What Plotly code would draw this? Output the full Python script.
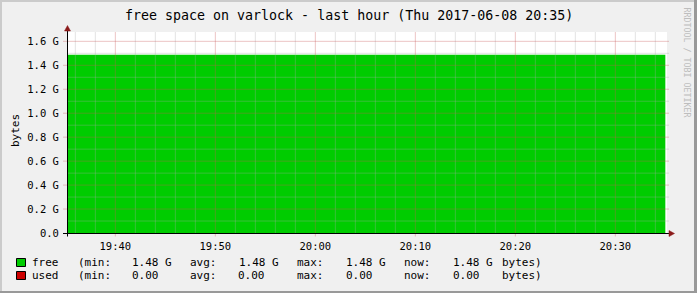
import plotly.graph_objects as go
from datetime import datetime, timedelta

# ---------------- data ----------------
times = ["2017-06-08 19:35:00", "2017-06-08 19:40:00", "2017-06-08 19:45:00",
         "2017-06-08 19:50:00", "2017-06-08 19:55:00", "2017-06-08 20:00:00",
         "2017-06-08 20:05:00", "2017-06-08 20:10:00", "2017-06-08 20:15:00",
         "2017-06-08 20:20:00", "2017-06-08 20:25:00", "2017-06-08 20:30:00",
         "2017-06-08 20:35:00"]
free_bytes = [1.488e9, 1.488e9, 1.488e9, 1.488e9, 1.488e9, 1.488e9, 1.488e9,
              1.488e9, 1.488e9, 1.488e9, 1.488e9, 1.488e9, 1.488e9]
used_bytes = [0, 0, 0, 0, 0, 0, 0, 0, 0, 0, 0, 0, 0]

y_major = [0.0, 0.2e9, 0.4e9, 0.6e9, 0.8e9, 1.0e9, 1.2e9, 1.4e9, 1.6e9]
y_labels = ["0.0", "0.2 G", "0.4 G", "0.6 G", "0.8 G", "1.0 G", "1.2 G", "1.4 G", "1.6 G"]
y_minor = [0.1e9, 0.3e9, 0.5e9, 0.7e9, 0.9e9, 1.1e9, 1.3e9, 1.5e9]
y_range = [0, 1.678e9]

x_major = ["2017-06-08 19:40:00", "2017-06-08 19:50:00", "2017-06-08 20:00:00",
           "2017-06-08 20:10:00", "2017-06-08 20:20:00", "2017-06-08 20:30:00"]
x_labels = ["19:40", "19:50", "20:00", "20:10", "20:20", "20:30"]
x_minor_start = "2017-06-08 19:36:00"
x_minor_end = "2017-06-08 20:34:00"
x_minor_step_min = 2
x_range = ["2017-06-08 19:35:10", "2017-06-08 20:35:10"]

title = "free space on varlock - last hour (Thu 2017-06-08 20:35)"
y_title = "bytes"
watermark = "RRDTOOL / TOBI OETIKER"

legend_names = ["free", "used"]
legend_colors = ["#00CC00", "#CC0000"]
legend_stats = [
    ["(min:", "1.48 G", "avg:", "1.48 G", "max:", "1.48 G", "now:", "1.48 G", "bytes)"],
    ["(min:", "0.00", "avg:", "0.00", "max:", "0.00", "now:", "0.00", "bytes)"],
]

# ---------------- layout helpers ----------------
W, H = 697, 293
L, R, T, B = 67, 30, 32, 60
PW, PH = W - L - R, H - T - B
MONO = "DejaVu Sans Mono"


def fx(px):
    return (px - L) / PW


def fy(py):
    return (H - B - py) / PH


fig = go.Figure()
fig.add_trace(go.Scatter(x=times, y=free_bytes, mode="lines", stackgroup="one",
                         line=dict(width=0, color="#00CC00"), fillcolor="#00CC00",
                         hoverinfo="skip"))
fig.add_trace(go.Scatter(x=times, y=used_bytes, mode="lines", stackgroup="one",
                         line=dict(width=0, color="#CC0000"), fillcolor="#CC0000",
                         hoverinfo="skip"))

shapes = []
MINOR = "rgba(170,170,170,0.33)"
MAJOR = "rgba(200,90,90,0.35)"

# minor vertical grid
t = datetime.fromisoformat(x_minor_start)
tend = datetime.fromisoformat(x_minor_end)
majors = set(datetime.fromisoformat(v) for v in x_major)
while t <= tend:
    if t not in majors:
        shapes.append(dict(type="line", xref="x", yref="paper",
                           x0=t.isoformat(sep=" "), x1=t.isoformat(sep=" "),
                           y0=fy(233), y1=fy(32),
                           line=dict(color=MINOR, width=1), layer="above"))
    t += timedelta(minutes=x_minor_step_min)
# minor horizontal grid
for v in y_minor:
    shapes.append(dict(type="line", xref="paper", yref="y", x0=fx(67.5), x1=fx(669),
                       y0=v, y1=v, line=dict(color=MINOR, width=1), layer="above"))
# major vertical grid (with tick below axis)
for v in x_major:
    shapes.append(dict(type="line", xref="x", yref="paper", x0=v, x1=v,
                       y0=fy(236.5), y1=fy(32),
                       line=dict(color=MAJOR, width=1), layer="above"))
# major horizontal grid (with tick left of axis)
for v in y_major[1:]:
    shapes.append(dict(type="line", xref="paper", yref="y", x0=fx(63), x1=fx(669),
                       y0=v, y1=v, line=dict(color=MAJOR, width=1), layer="above"))

# axes lines
shapes.append(dict(type="line", xref="paper", yref="paper", x0=fx(63), x1=fx(669.5),
                   y0=fy(233.5), y1=fy(233.5), line=dict(color="black", width=1), layer="above"))
shapes.append(dict(type="line", xref="paper", yref="paper", x0=fx(67.5), x1=fx(67.5),
                   y0=fy(236.5), y1=fy(29), line=dict(color="black", width=1), layer="above"))
# arrows
ARROW = "#8B1A1A"
shapes.append(dict(type="path", xref="paper", yref="paper",
                   path=f"M {fx(67.5)},{fy(25.5)} L {fx(64.5)},{fy(31)} L {fx(70.5)},{fy(31)} Z",
                   fillcolor=ARROW, line=dict(color=ARROW, width=0.5), layer="above"))
shapes.append(dict(type="path", xref="paper", yref="paper",
                   path=f"M {fx(674.5)},{fy(233.5)} L {fx(669)},{fy(230.5)} L {fx(669)},{fy(236.5)} Z",
                   fillcolor=ARROW, line=dict(color=ARROW, width=0.5), layer="above"))

# frame border
shapes.append(dict(type="rect", xref="paper", yref="paper", x0=fx(0), x1=fx(697), y0=fy(0), y1=fy(2),
                   fillcolor="#CBCBCB", line=dict(width=0)))
shapes.append(dict(type="rect", xref="paper", yref="paper", x0=fx(0), x1=fx(2), y0=fy(0), y1=fy(293),
                   fillcolor="#CBCBCB", line=dict(width=0)))
shapes.append(dict(type="rect", xref="paper", yref="paper", x0=fx(694), x1=fx(697), y0=fy(0), y1=fy(293),
                   fillcolor="#999999", line=dict(width=0)))
shapes.append(dict(type="rect", xref="paper", yref="paper", x0=fx(0), x1=fx(697), y0=fy(291), y1=fy(293),
                   fillcolor="#999999", line=dict(width=0)))

annotations = []
# legend
row_y = [262, 275.5]
box_y = [(258.5, 266.5), (271.5, 279.5)]
col_x = [76, 130, 188.7, 237, 295.7, 344, 402.3, 451.7, 500]
for i, name in enumerate(legend_names):
    y0, y1 = box_y[i]
    shapes.append(dict(type="rect", xref="paper", yref="paper", x0=fx(16.5), x1=fx(25.5),
                       y0=fy(y1), y1=fy(y0), fillcolor=legend_colors[i],
                       line=dict(color="black", width=1)))
    annotations.append(dict(text=name, x=fx(29.5), y=fy(row_y[i]), xref="paper", yref="paper",
                            xanchor="left", yanchor="middle", showarrow=False,
                            font=dict(family=MONO, size=11, color="black")))
    for cx, s in zip(col_x, legend_stats[i]):
        annotations.append(dict(text=s.replace(" ", "&nbsp;"), x=fx(cx - 0.5), y=fy(row_y[i]),
                                xref="paper", yref="paper", xanchor="left", yanchor="middle",
                                showarrow=False, font=dict(family=MONO, size=11, color="black")))

annotations.append(dict(text=title, x=fx(348.5), y=fy(16), xref="paper", yref="paper",
                        xanchor="center", yanchor="middle", showarrow=False,
                        font=dict(family=MONO, size=13.3, color="black")))
annotations.append(dict(text=y_title, x=fx(15), y=fy(131), xref="paper", yref="paper",
                        xanchor="center", yanchor="middle", showarrow=False, textangle=-90,
                        font=dict(family=MONO, size=11, color="black")))
annotations.append(dict(text=watermark, x=fx(687), y=fy(62.5), xref="paper", yref="paper",
                        xanchor="center", yanchor="middle", showarrow=False, textangle=90,
                        font=dict(family=MONO, size=8.3, color="#BDBDBD")))

fig.update_layout(
    width=W, height=H,
    margin=dict(l=L, r=R, t=T, b=B, pad=0),
    paper_bgcolor="#F0F0F0", plot_bgcolor="white",
    showlegend=False, hovermode=False,
    shapes=shapes, annotations=annotations,
    xaxis=dict(type="date", range=x_range, tickvals=x_major, ticktext=x_labels,
               showgrid=False, zeroline=False, showline=False,
               ticks="outside", ticklen=3, tickcolor="rgba(0,0,0,0)",
               tickfont=dict(family=MONO, size=10.5, color="black")),
    yaxis=dict(range=y_range, tickvals=y_major, ticktext=y_labels,
               showgrid=False, zeroline=False, showline=False,
               ticks="outside", ticklen=5, tickcolor="rgba(0,0,0,0)",
               tickfont=dict(family=MONO, size=10.5, color="black")),
)

fig.write_html("out.html", config={"displayModeBar": False})
